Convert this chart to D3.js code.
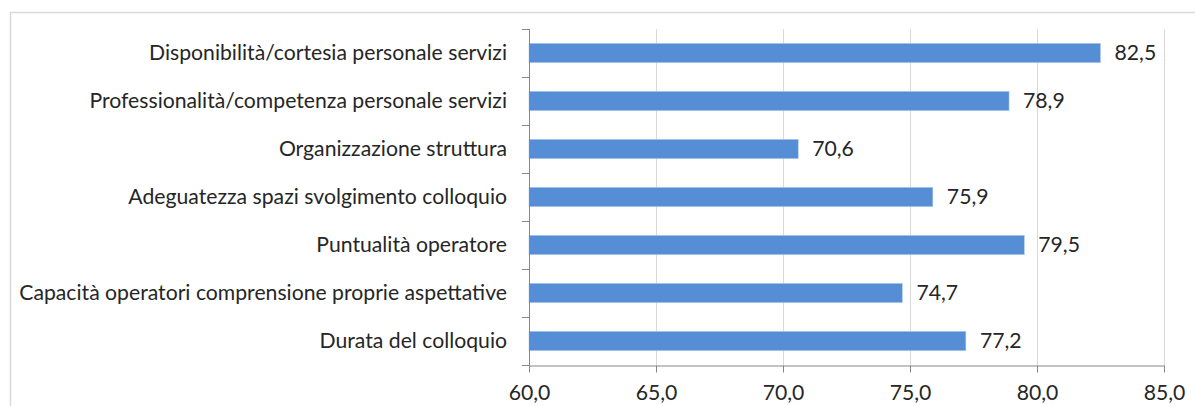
<!DOCTYPE html>
<html><head><meta charset="utf-8">
<script src="https://cdn.jsdelivr.net/npm/d3@7"></script>
<style>body{margin:0;background:#fff}svg{display:block}</style>
</head><body>
<script>
const categories = [
  "Disponibilità/cortesia personale servizi",
  "Professionalità/competenza personale servizi",
  "Organizzazione struttura",
  "Adeguatezza spazi svolgimento colloquio",
  "Puntualità operatore",
  "Capacità operatori comprensione proprie aspettative",
  "Durata del colloquio"
];
const values = [82.5, 78.9, 70.6, 75.9, 79.5, 74.7, 77.2];
const tickValues = [60, 65, 70, 75, 80, 85];

(function () {
const W = 1195, H = 406;
const svg = d3.select("body").append("svg").attr("width", W).attr("height", H);
const font = "Lato, 'Open Sans', sans-serif";

// chart frame
svg.append("path").attr("d", `M10.5,${H+2}V12.5H${W+2}`).attr("fill","none")
  .attr("stroke","#d9d9d9").attr("stroke-width",1.5);

const pL = 529, pR = 1164, pT = 29, pB = 365;
const x = d3.scaleLinear().domain([60, 85]).range([pL, pR]);
const y = d3.scaleBand().domain(categories).range([pT, pB]).paddingInner(0.595).paddingOuter(0.2975);

const fmt = v => v.toFixed(1).replace(".", ",");

// gridlines
svg.append("g").selectAll("line").data(tickValues.slice(1)).join("line")
  .attr("x1", d => Math.round(x(d)) + 0.5).attr("x2", d => Math.round(x(d)) + 0.5)
  .attr("y1", pT).attr("y2", pB)
  .attr("stroke", "#d9d9d9").attr("stroke-width", 1);

// bars
svg.append("g").selectAll("rect").data(values).join("rect")
  .attr("x", x(60)).attr("y", (d, i) => y(categories[i]))
  .attr("width", d => x(d) - x(60)).attr("height", y.bandwidth())
  .attr("fill", "#558ed5").attr("stroke", "#b9cde8").attr("stroke-width", 0.6);

// value labels
svg.append("g").selectAll("text").data(values).join("text")
  .attr("x", d => x(d) + 14).attr("y", (d, i) => y(categories[i]) + y.bandwidth() / 2)
  .attr("dy", "0.35em").attr("font-family", font).attr("font-size", 17).attr("fill", "#262626")
  .text(fmt);

// y axis
const yAxis = svg.append("g").attr("transform", `translate(${pL},0)`);
yAxis.append("line").attr("x1", 0.5).attr("x2", 0.5).attr("y1", pT).attr("y2", pB + 1)
  .attr("stroke", "#868686");
const bounds = d3.range(categories.length + 1).map(i => pT + i * y.step());
yAxis.selectAll(".tk").data(bounds).join("line").attr("class", "tk")
  .attr("x1", -7).attr("x2", 0.5).attr("y1", d => Math.round(d) + 0.5).attr("y2", d => Math.round(d) + 0.5)
  .attr("stroke", "#868686");
const catLabels = yAxis.selectAll(".cl").data(categories).join("text").attr("class", "cl")
  .attr("x", -22).attr("y", d => y(d) + y.bandwidth() / 2).attr("dy", "0.35em")
  .attr("text-anchor", "end").attr("font-family", font).attr("font-size", 17).attr("fill", "#262626")
  .text(d => d);

// x axis
const xAxisG = svg.append("g").attr("transform", `translate(0,${pB + 0.5})`)
  .call(d3.axisBottom(x).tickValues(tickValues).tickFormat(fmt).tickSizeInner(7).tickSizeOuter(0).tickPadding(12));
xAxisG.select(".domain").attr("stroke", "#868686");
xAxisG.selectAll(".tick line").attr("stroke", "#868686");
xAxisG.selectAll(".tick text").attr("font-family", font).attr("font-size", 17).attr("fill", "#262626");

// fit label font size to reference width
const longest = catLabels.filter((d, i) => i === 5).node();
const wl = longest.getComputedTextLength();
const fs = 17 * 488 / wl;
svg.selectAll("text").attr("font-size", fs);
})();
</script>
</body></html>
